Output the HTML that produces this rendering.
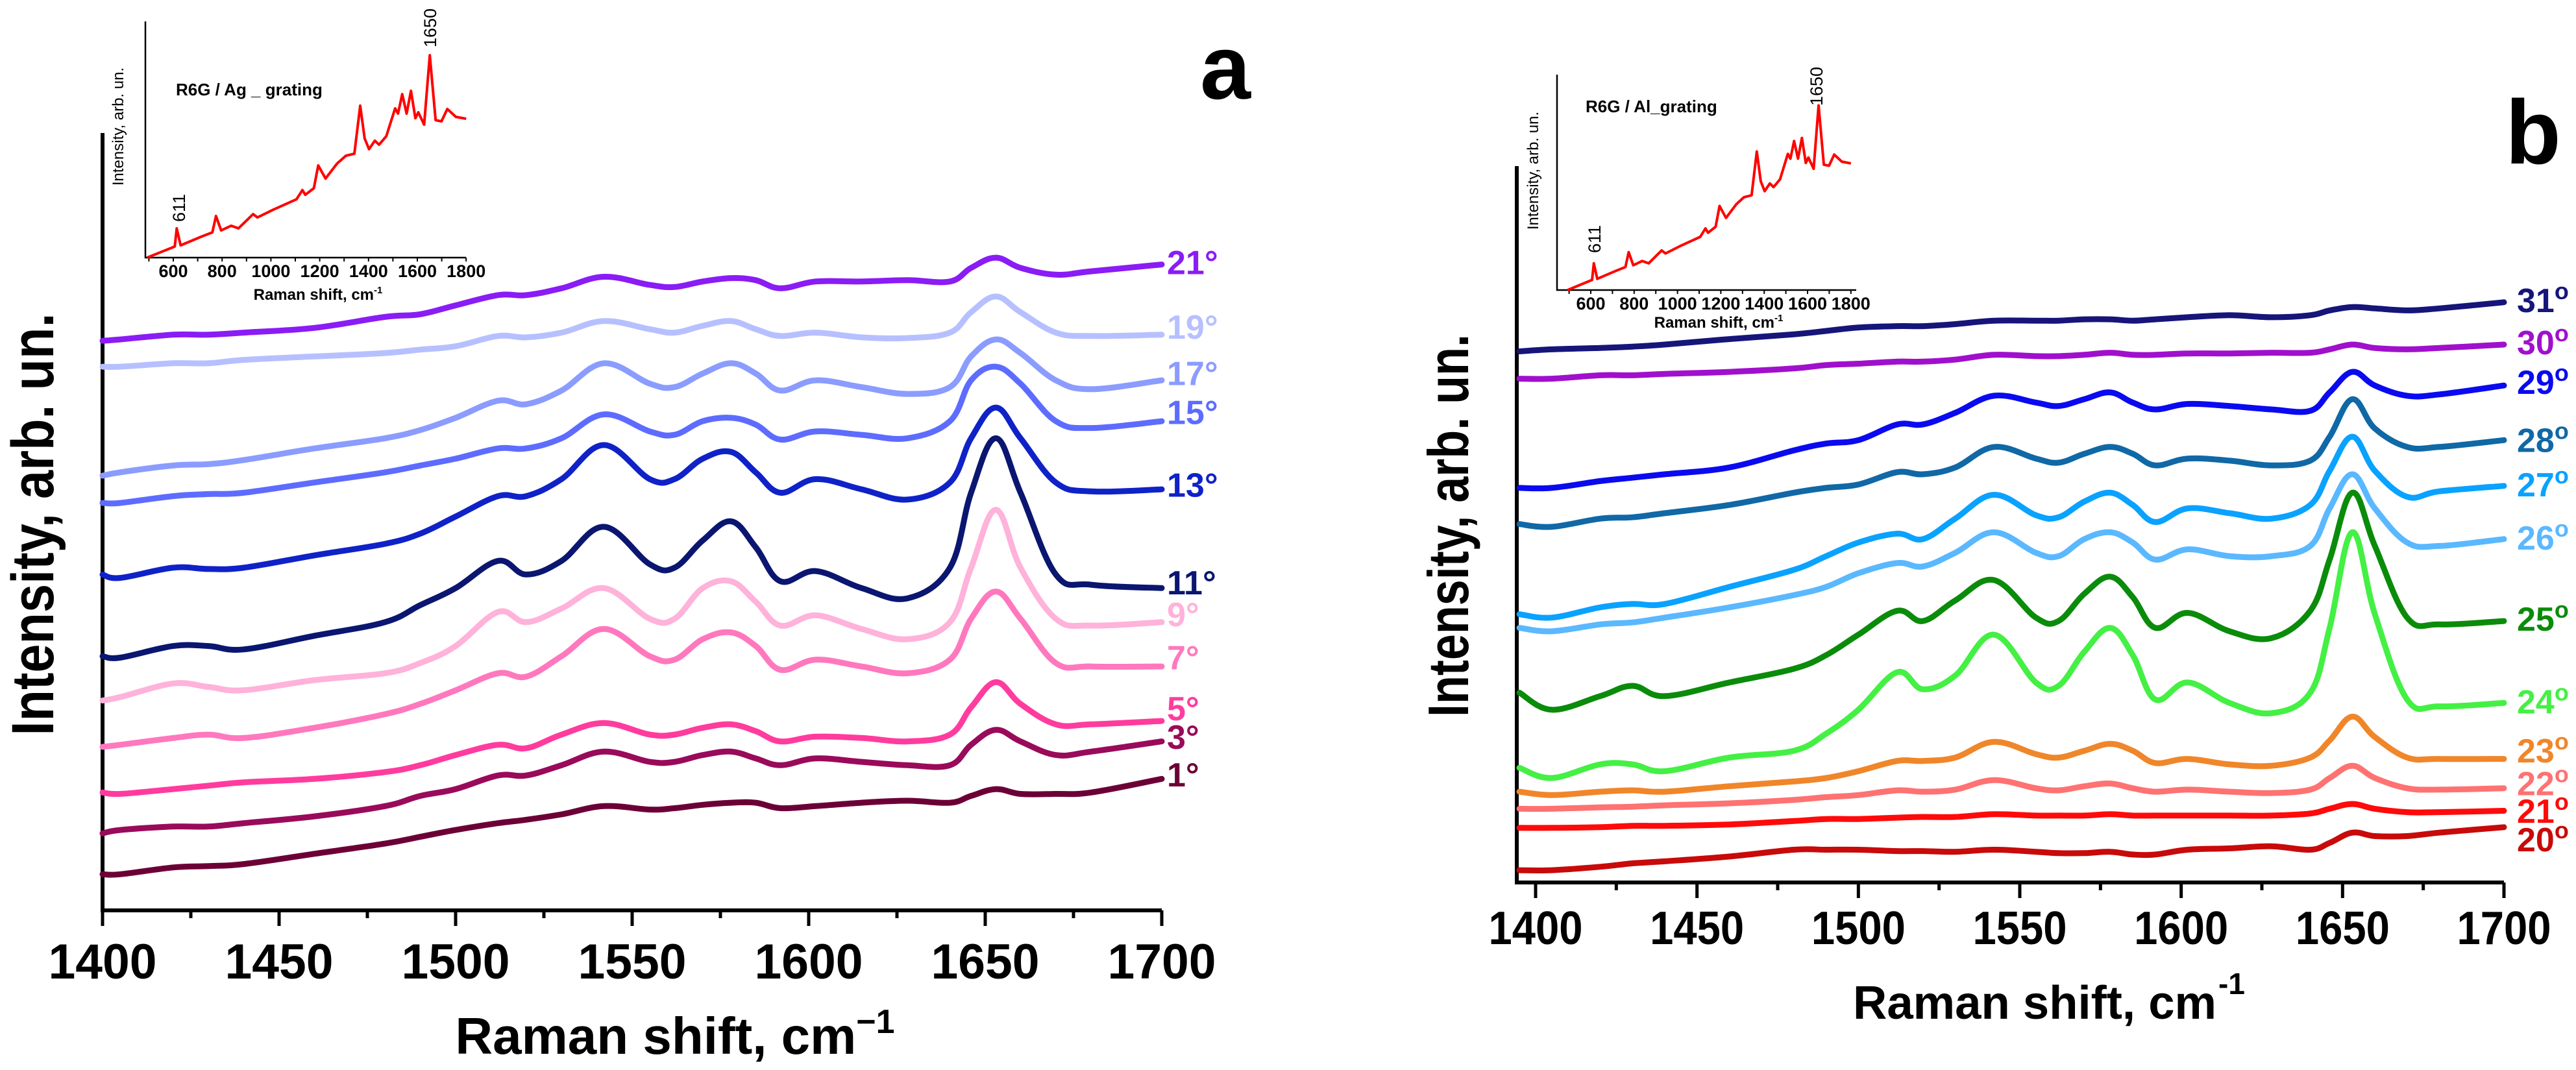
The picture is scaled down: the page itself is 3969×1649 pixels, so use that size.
<!DOCTYPE html>
<html><head><meta charset="utf-8"><style>
html,body{margin:0;padding:0;background:#fff;}
svg{display:block;font-family:"Liberation Sans",Arial,sans-serif;font-weight:bold;}
</style></head><body>
<svg id="fig" xmlns="http://www.w3.org/2000/svg" width="3969" height="1649" viewBox="0 0 3969 1649">
<rect width="3969" height="1649" fill="#fff"/>
<g id="panelA"></g>
<g id="panelB"></g>
</svg>
<script>
// ---------- data ----------
const wnA = [1400,1405,1420,1430,1440,1460,1480,1490,1500,1512,1520,1530,1542,1555,1562,1570,1578,1585,1592,1602,1615,1628,1640,1646,1653,1660,1670,1680,1700];
const wnB = [1395,1405,1420,1430,1440,1460,1480,1490,1500,1512,1520,1530,1542,1555,1562,1570,1578,1585,1592,1602,1615,1628,1640,1646,1653,1660,1670,1680,1700];
// panel a series (reading scale: smaller = higher intensity)
const a21 = [497,495,488,488,485,478,462,458,445,430,430,420,403,415,418,410,405,408,420,410,410,408,410,390,375,390,400,395,385];
const a19 = [535,535,530,530,525,520,515,510,505,490,492,485,468,480,485,475,468,480,490,485,492,493,485,455,432,455,485,490,488];
const a17 = [695,690,680,678,672,655,640,628,610,585,590,570,530,560,565,545,530,545,570,555,565,575,565,520,495,515,555,568,555];
const a15 = [735,735,725,722,720,705,690,680,670,655,655,640,605,630,635,615,610,620,642,630,635,640,615,555,535,560,615,625,615];
const a13 = [840,845,830,832,830,812,795,780,755,725,725,700,650,700,700,670,660,690,720,700,715,730,705,640,595,640,705,718,715];
const a11 = [960,962,945,945,950,930,910,885,860,820,840,820,770,825,830,790,762,800,850,835,860,875,830,720,640,720,840,855,860];
const a9  = [1025,1020,1000,1005,1010,995,985,970,945,895,910,890,860,905,905,860,850,880,915,900,920,935,910,830,745,830,905,915,910];
const a7  = [1093,1090,1080,1075,1080,1065,1045,1030,1010,985,990,960,920,960,965,935,925,945,980,965,975,985,965,905,865,905,970,975,975];
const a5  = [1160,1162,1155,1150,1145,1140,1130,1120,1105,1090,1095,1075,1058,1075,1075,1065,1060,1070,1085,1078,1080,1085,1075,1035,998,1030,1060,1060,1055];
const a3  = [1220,1215,1210,1210,1205,1195,1180,1165,1155,1135,1135,1120,1100,1115,1115,1105,1100,1110,1120,1110,1115,1120,1120,1090,1068,1085,1105,1100,1085];
const a1  = [1280,1280,1270,1268,1265,1250,1235,1225,1215,1205,1200,1192,1180,1185,1183,1178,1175,1175,1183,1180,1175,1172,1175,1165,1155,1162,1162,1160,1140];
// panel b series
const b31 = [515,512,510,508,505,497,490,485,480,478,478,475,470,470,470,468,468,470,468,465,462,465,462,455,450,452,455,452,443];
const b30 = [555,555,550,550,548,545,540,535,533,530,530,527,520,522,522,520,517,520,520,518,518,517,517,512,505,510,512,510,505];
const b29 = [715,715,705,700,695,685,660,650,645,622,622,605,580,590,595,585,575,590,600,592,595,600,602,575,545,565,580,578,565];
const b28 = [768,772,760,758,752,740,722,715,710,692,695,685,655,672,678,665,655,665,682,672,675,682,675,640,585,628,655,655,645];
const b27 = [900,905,890,885,885,860,835,815,795,782,790,760,725,755,758,735,722,740,765,745,752,760,740,690,640,690,728,720,712];
const b26 = [920,925,915,912,905,890,872,860,840,825,830,810,780,810,815,790,780,795,820,805,815,815,800,745,695,745,795,800,790];
const b25 = [1015,1040,1020,1005,1020,1000,980,960,930,895,910,880,850,905,910,870,845,875,920,898,925,935,895,820,722,800,905,915,910];
const b24 = [1125,1140,1120,1120,1130,1110,1100,1075,1040,985,1010,990,930,1000,1005,955,920,960,1025,1000,1030,1045,1015,920,780,900,1025,1035,1030];
const b23 = [1160,1165,1160,1158,1160,1152,1145,1140,1130,1115,1115,1110,1087,1105,1110,1100,1090,1100,1118,1112,1120,1122,1110,1085,1050,1080,1110,1112,1112];
const b22 = [1185,1185,1183,1182,1180,1177,1172,1168,1165,1158,1160,1157,1143,1155,1158,1152,1148,1155,1160,1157,1160,1162,1157,1140,1122,1140,1155,1157,1155];
const b21 = [1213,1213,1212,1210,1210,1208,1203,1200,1200,1198,1197,1197,1193,1195,1195,1195,1193,1195,1195,1195,1195,1195,1192,1185,1178,1185,1190,1190,1188];
const b20 = [1275,1275,1270,1265,1262,1255,1245,1245,1245,1247,1247,1248,1245,1248,1250,1250,1248,1252,1252,1245,1243,1240,1245,1235,1220,1225,1225,1220,1212];
// inset spectrum (R6G), wavenumber and relative intensity 0-100
const insetWn = [493,606,614,630,713,760,775,796,837,867,927,945,1010,1105,1129,1141,1176,1194,1224,1271,1307,1342,1366,1384,1402,1426,1443,1473,1509,1521,1538,1556,1574,1592,1604,1628,1651,1675,1699,1723,1758,1800];
const insetI  = [0,4.7,12.4,5.2,8.8,10.7,17.6,11.5,13.5,12.4,18.4,17,20.3,24.7,28.6,26.6,29.4,39,33.5,39.8,43.1,44,64.3,50.5,45.9,49.5,47.8,51.4,63.2,61,69.2,61,70.6,59,61.5,56.3,85.7,58.2,57.7,62.9,59.6,58.8];
const insetTicks = [600,800,1000,1200,1400,1600,1800];
const xTicks = [1400,1450,1500,1550,1600,1650,1700];

// ---------- helpers ----------
const NS = "http://www.w3.org/2000/svg";
function mk(parent, tag, attrs, text){
  const e = document.createElementNS(NS, tag);
  for (const k in attrs) e.setAttribute(k, attrs[k]);
  if (text !== undefined) e.textContent = text;
  parent.appendChild(e);
  return e;
}
const xA = wn => 158 + (wn - 1400) * (1790 - 158) / 300;
const yA = r => 1403 - (1333 - r) * 1.05;
const xB = wn => 2366 + (wn - 1400) * (3858 - 2366) / 300;
const yB = r => 1360 - (1293 - r) * 1.052;

function smoothPath(P){
  let d = `M${P[0][0].toFixed(1)},${P[0][1].toFixed(1)}`;
  for (let i = 0; i < P.length - 1; i++){
    const p0 = P[Math.max(0,i-1)], p1 = P[i], p2 = P[i+1], p3 = P[Math.min(P.length-1,i+2)];
    const t = 0.18;
    const c1x = p1[0] + (p2[0]-p0[0])*t, c1y = p1[1] + (p2[1]-p0[1])*t;
    const c2x = p2[0] - (p3[0]-p1[0])*t, c2y = p2[1] - (p3[1]-p1[1])*t;
    d += ` C${c1x.toFixed(1)},${c1y.toFixed(1)} ${c2x.toFixed(1)},${c2y.toFixed(1)} ${p2[0].toFixed(1)},${p2[1].toFixed(1)}`;
  }
  return d;
}

function drawAxes(g, x0, xEnd, yTop, yAxis, xf, fs, tlen, labY){
  const ax = mk(g, 'path', {d:`M${x0},${yTop} L${x0},${yAxis} L${xEnd},${yAxis}`, fill:'none', stroke:'#000', 'stroke-width':6});
  
  
  for (let w = 1400; w <= 1700; w += 25){
    const maj = (w % 50 === 0);
    const t = mk(g, 'line', {x1:xf(w), x2:xf(w), y1:yAxis, y2:yAxis + (maj ? 24 : 12), stroke:'#000', 'stroke-width':5});
    
    
  }
  xTicks.forEach(v => {
    const t = mk(g, 'text', {x:xf(v), y:labY, 'font-size':fs, 'text-anchor':'middle', textLength:tlen, lengthAdjust:'spacingAndGlyphs'}, String(v));
    
    
  });
}
function drawSeries(g, wn, vals, xf, yf, color, name){
  const P = wn.map((w,i) => [xf(w), yf(vals[i])]);
  const p = mk(g, 'path', {d:smoothPath(P), fill:'none', stroke:color, 'stroke-width':9, 'stroke-linejoin':'round', 'stroke-linecap':'round'});
  
  
}
function drawInset(g, L, T, B, R, xf, yf, label, lx, ly, l611, l1650, tx, ty, titx, tity){
  const ax = mk(g, 'path', {d:`M${L},${T} L${L},${B} L${R},${B}`, fill:'none', stroke:'#000', 'stroke-width':2.5});
  
  
  for (let w = 500; w <= 1800; w += 100){
    const t = mk(g, 'line', {x1:xf(w), x2:xf(w), y1:B, y2:B + 6, stroke:'#000', 'stroke-width':2});
    
    
  }
  insetTicks.forEach(v => {
    const t = mk(g, 'text', {x:xf(v), y:B + 30, 'font-size':27, 'text-anchor':'middle'}, String(v));
    
    
  });
  const pts = insetWn.map((w,i) => xf(w).toFixed(1) + ',' + yf(insetI[i]).toFixed(1)).join(' ');
  const p = mk(g, 'polyline', {points:pts, fill:'none', stroke:'#ff0000', 'stroke-width':4, 'stroke-linejoin':'round'});
  
  
  const s = mk(g, 'text', {x:lx, y:ly, 'font-size':26}, label);
  
  
  const a1 = mk(g, 'text', {x:0, y:0, 'font-size':27, 'font-weight':'normal', transform:`translate(${l611[0]},${l611[1]}) rotate(-90)`}, '611');
  
  
  const a2 = mk(g, 'text', {x:0, y:0, 'font-size':27, 'font-weight':'normal', transform:`translate(${l1650[0]},${l1650[1]}) rotate(-90)`}, '1650');
  
  
  const xt = mk(g, 'text', {x:tx, y:ty, 'font-size':24, 'text-anchor':'middle'});
  
  
  xt.innerHTML = 'Raman shift, cm<tspan dy="-10" font-size="15">-1</tspan>';
  const yt = mk(g, 'text', {x:0, y:0, 'font-size':24, 'font-weight':'normal', 'text-anchor':'middle', transform:`translate(${titx},${tity}) rotate(-90)`}, 'Intensity, arb. un.');
  
  
}
function seriesLabel(g, x, y, txt, color, sup){
  const t = mk(g, 'text', {x:x, y:y, 'font-size':52, fill:color});
  
  
  if (sup){ t.innerHTML = txt + '<tspan dy="-20" font-size="36">o</tspan>'; }
  else { t.textContent = txt + '°'; }
}

// ---------- panel a ----------
const gA = document.getElementById('panelA');
drawAxes(gA, 158, 1790, 205, 1403, xA, 76, 167, 1508);
const seriesA = [[a21,'#8a1cf5','21'],[a19,'#b7c0ff','19'],[a17,'#8b9cff','17'],[a15,'#5d6cff','15'],[a13,'#0f22c8','13'],[a11,'#0a1670','11'],[a9,'#ffb2da','9'],[a7,'#ff78be','7'],[a5,'#ff3c9e','5'],[a3,'#9a0a5a','3'],[a1,'#6c0036','1']];
const labYA = {21:385,19:480,17:548,15:605,13:712,11:855,9:902,7:965,5:1040,3:1082,1:1137};
seriesA.forEach(s => {
  drawSeries(gA, wnA, s[0], xA, yA, s[1], 'spectrum-a-' + s[2] + 'deg');
  seriesLabel(gA, 1798, labYA[s[2]]*1.05 + 18, s[2], s[1], false);
});
const ytA = mk(gA, 'text', {x:0, y:0, 'font-size':92, 'text-anchor':'middle', textLength:651, lengthAdjust:'spacingAndGlyphs', transform:'translate(82,808) rotate(-90)'}, 'Intensity, arb. un.');


const xtA = mk(gA, 'text', {x:1040, y:1624, 'font-size':80, 'text-anchor':'middle'});


xtA.innerHTML = 'Raman shift, cm<tspan dy="-32" font-size="52">−1</tspan>';
const la = mk(gA, 'text', {x:1888, y:152, 'font-size':140, 'text-anchor':'middle'}, 'a');


drawInset(gA, 224, 33, 397, 718, w => 267 + (w - 600) * 0.376, v => 397 - v * 3.64,
  'R6G / Ag _ grating', 271, 147, [285,342], [672,73], 490, 462, 190, 195);

// ---------- panel b ----------
const gB = document.getElementById('panelB');
drawAxes(gB, 2337, 3858, 256, 1360, xB, 72, 145, 1455);
const seriesB = [[b31,'#15157a','31'],[b30,'#a010cc','30'],[b29,'#0a0af0','29'],[b28,'#1068a6','28'],[b27,'#0aa2ff','27'],[b26,'#5ab8ff','26'],[b25,'#0a8c0a','25'],[b24,'#44f044','24'],[b23,'#f0862a','23'],[b22,'#ff7272','22'],[b21,'#ff0a0a','21'],[b20,'#c80a0a','20']];
const labYB = {31:440,30:502,29:560,28:645,27:710,26:788,25:907,24:1028,23:1100,22:1148,21:1188,20:1230};
seriesB.forEach(s => {
  drawSeries(gB, wnB, s[0], xB, yB, s[1], 'spectrum-b-' + s[2] + 'deg');
  seriesLabel(gB, 3878, labYB[s[2]]*1.052 + 18, s[2], s[1], true);
});
const ytB = mk(gB, 'text', {x:0, y:0, 'font-size':88, 'text-anchor':'middle', textLength:590, lengthAdjust:'spacingAndGlyphs', transform:'translate(2262,810) rotate(-90)'}, 'Intensity, arb. un.');


const xtB = mk(gB, 'text', {x:3135, y:1570, 'font-size':72, 'text-anchor':'middle', textLength:560, lengthAdjust:'spacingAndGlyphs'});


xtB.textContent = 'Raman shift, cm';
const supB = mk(gB, 'text', {x:3418, y:1532, 'font-size':46}, '-1');


const lb = mk(gB, 'text', {x:3903, y:252, 'font-size':140, 'text-anchor':'middle'}, 'b');


drawInset(gB, 2399, 115, 447, 2860, w => 2451 + (w - 600) * 0.334, v => 447 - v * 3.32,
  'R6G / Al_grating', 2443, 173, [2466,390], [2808,163], 2648, 505, 2370, 263);
</script>
</body></html>
